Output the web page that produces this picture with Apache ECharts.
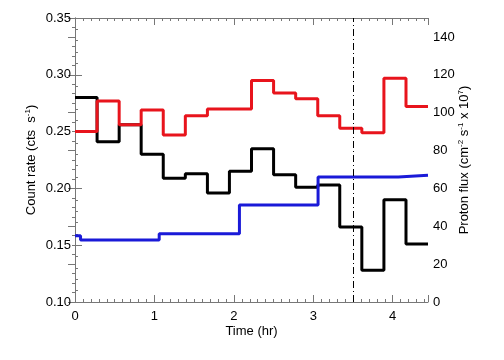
<!DOCTYPE html>
<html>
<head>
<meta charset="utf-8">
<script src="https://cdn.jsdelivr.net/npm/echarts@6/dist/echarts.min.js"></script>
<style>
  html, body { margin: 0; padding: 0; background: #fff; }
  #chart { width: 504px; height: 360px; }
</style>
</head>
<body>
<div id="chart"></div>
<script>
// bin edges in hours (1000 s bins)
const binEdges = [0, 0.278, 0.556, 0.833, 1.111, 1.389, 1.667, 1.944, 2.222, 2.5, 2.778, 3.056, 3.333, 3.611, 3.889, 4.167, 4.444]
const blackRate = [0.280, 0.241, 0.256, 0.230, 0.209, 0.213, 0.196, 0.215, 0.235, 0.212, 0.201, 0.203, 0.166, 0.128, 0.190, 0.151]
const redRate = [0.250, 0.277, 0.256, 0.269, 0.247, 0.264, 0.270, 0.270, 0.295, 0.284, 0.279, 0.264, 0.253, 0.249, 0.297, 0.272]

// proton flux (hourly steps)
const fluxTimes = [0, 0.07, 1.06, 2.07, 3.06, 4.07, 4.444]
const fluxValues = [35.0, 32.7, 36.1, 51.2, 66.0, 66.9, 66.9]

const markerTime = 3.5

const FONT = 'Liberation Sans'

// step series: point at each bin start, repeat last value at final edge
const toSteps = (edges, vals) => {
  const pts = vals.map((v, i) => [edges[i], v])
  pts.push([edges[edges.length - 1], vals[vals.length - 1]])
  return pts
}

const axisLine = { show: true, lineStyle: { color: '#777', width: 1 } }
const supRich = {
  sup: { fontSize: 8, fontFamily: FONT, color: '#000', verticalAlign: 'top', padding: [0, 0, 6, 0] }
}

const chart = echarts.init(document.getElementById('chart'))

chart.setOption({
  animation: false,
  textStyle: { fontFamily: FONT },
  grid: { left: 75, right: 76, top: 18, bottom: 58 },
  xAxis: [{
    type: 'value',
    min: 0,
    max: binEdges[binEdges.length - 1],
    interval: 1,
    name: 'Time (hr)',
    nameLocation: 'middle',
    nameGap: 23,
    nameMoveOverlap: false,
    nameTextStyle: { fontSize: 13, color: '#000', fontFamily: FONT },
    axisLine,
    axisTick: { inside: true, length: 7, lineStyle: { color: '#777' } },
    minorTick: { show: true, splitNumber: 10, length: 3, lineStyle: { color: '#777' } },
    splitLine: { show: false },
    axisLabel: { fontSize: 13, color: '#000', margin: 8, showMaxLabel: false, fontFamily: FONT }
  }, {
    type: 'value',
    position: 'top',
    min: 0,
    max: binEdges[binEdges.length - 1],
    interval: 1,
    axisLine,
    axisTick: { inside: true, length: 7, lineStyle: { color: '#777' } },
    minorTick: { show: true, splitNumber: 10, length: 3, lineStyle: { color: '#777' } },
    splitLine: { show: false },
    axisLabel: { show: false }
  }],
  yAxis: [{
    type: 'value',
    position: 'left',
    min: 0.10,
    max: 0.35,
    interval: 0.05,
    name: 'Count rate (cts  s{sup|-1})',
    nameLocation: 'middle',
    nameRotate: 90,
    nameGap: 37,
    nameMoveOverlap: false,
    nameTextStyle: { fontSize: 13, color: '#000', fontFamily: FONT, rich: supRich },
    axisLine,
    axisTick: { inside: true, length: 7, lineStyle: { color: '#777' } },
    minorTick: { show: true, splitNumber: 5, length: 3, lineStyle: { color: '#777' } },
    splitLine: { show: false },
    axisLabel: { fontSize: 13, color: '#000', margin: 4, fontFamily: FONT, formatter: v => v.toFixed(2) }
  }, {
    type: 'value',
    position: 'right',
    min: 0,
    max: 150,
    interval: 20,
    name: 'Proton flux (cm{sup|-2} s{sup|-1} x 10{sup|7})',
    nameLocation: 'middle',
    nameRotate: 90,
    nameGap: 29,
    nameMoveOverlap: false,
    nameTextStyle: { fontSize: 13, color: '#000', fontFamily: FONT, rich: supRich },
    axisLine,
    axisTick: { inside: true, length: 7, lineStyle: { color: '#777' } },
    minorTick: { show: true, splitNumber: 4, length: 3, lineStyle: { color: '#777' } },
    splitLine: { show: false },
    axisLabel: { fontSize: 13, color: '#000', margin: 5, showMaxLabel: false, fontFamily: FONT }
  }],
  series: [{
    name: 'black',
    type: 'line',
    step: 'end',
    yAxisIndex: 0,
    data: toSteps(binEdges, blackRate),
    showSymbol: false,
    lineStyle: { color: '#000', width: 3 },
    markLine: {
      silent: true,
      symbol: 'none',
      label: { show: false },
      lineStyle: { color: '#000', width: 1, type: [7, 3, 1, 3] },
      data: [{ xAxis: markerTime }]
    }
  }, {
    name: 'red',
    type: 'line',
    step: 'end',
    yAxisIndex: 0,
    data: toSteps(binEdges, redRate),
    showSymbol: false,
    lineStyle: { color: '#e8141c', width: 3 }
  }, {
    name: 'blue',
    type: 'line',
    step: 'end',
    yAxisIndex: 1,
    data: fluxTimes.map((t, i) => [t, fluxValues[i]]),
    showSymbol: false,
    lineStyle: { color: '#1a1ad8', width: 3 }
  }]
})
</script>
</body>
</html>
